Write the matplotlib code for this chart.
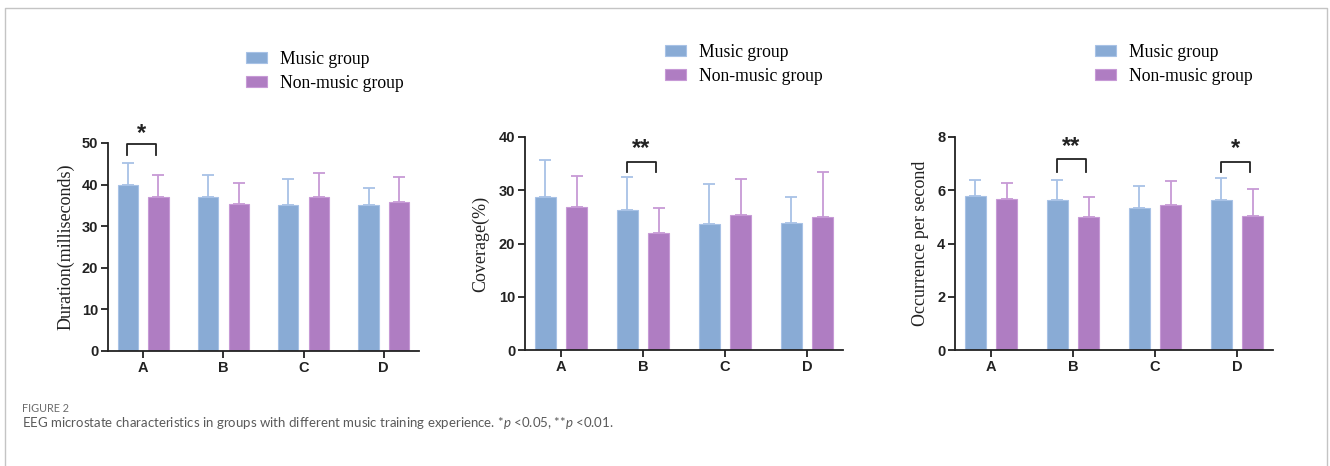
import matplotlib
matplotlib.use("Agg")
import matplotlib.pyplot as plt
import numpy as np

# microstate classes
states = ['A', 'B', 'C', 'D']

# duration (ms): mean and upper sd bar
dur_music = [40.0, 37.1, 35.2, 35.2]
dur_music_sd = [5.1, 5.1, 6.2, 4.1]
dur_non = [36.9, 35.3, 37.1, 35.9]
dur_non_sd = [5.4, 5.0, 5.8, 6.0]

# coverage (%)
cov_music = [28.7, 26.2, 23.6, 23.8]
cov_music_sd = [7.0, 6.3, 7.6, 5.0]
cov_non = [26.8, 21.9, 25.3, 24.9]
cov_non_sd = [5.8, 4.7, 6.9, 8.6]

# occurrence per second
occ_music = [5.79, 5.62, 5.33, 5.62]
occ_music_sd = [0.61, 0.76, 0.83, 0.83]
occ_non = [5.68, 4.99, 5.43, 5.03]
occ_non_sd = [0.61, 0.77, 0.90, 1.03]

# significance marks: (state index, label, bracket top, bracket foot, star y)
dur_sig = [(0, '*', 49.8, 47.1, 52.4)]
cov_sig = [(1, '**', 35.3, 33.4, 37.8)]
occ_sig = [(1, '**', 7.17, 6.70, 7.66), (3, '*', 7.05, 6.67, 7.58)]

col_music = '#89abd5'
col_non = '#af7dc2'
err_music = '#a8c2e6'
err_non = '#c79ad6'

plt.rcParams['mathtext.fontset'] = 'custom'
plt.rcParams['mathtext.it'] = 'Lato:italic'
plt.rcParams['mathtext.rm'] = 'Lato'

fig = plt.figure(figsize=(13.3, 4.66), dpi=100)
W, H = 1330, 466

# light frame around the figure
fig.add_artist(plt.Line2D([5/W, 5/W, 1327/W, 1327/W], [-0.1, 1-8/H, 1-8/H, -0.1],
                          transform=fig.transFigure, color='#c4c4c4', lw=1.0))

panels = [
    ([108, 419, 143, 351], dur_music, dur_music_sd, dur_non, dur_non_sd, 50, 10,
     'Duration(milliseconds)', dur_sig, -0.108, (246, 51)),
    ([525, 843, 137, 350], cov_music, cov_music_sd, cov_non, cov_non_sd, 40, 10,
     'Coverage(%)', cov_sig, -0.112, (665, 44)),
    ([955, 1273, 137, 350], occ_music, occ_music_sd, occ_non, occ_non_sd, 8, 2,
     'Occurrence per second', occ_sig, -0.082, (1095, 44)),
]

x = np.arange(len(states))
w = 0.25
off = 0.19

for box, m, msd, n, nsd, ymax, ystep, ylab, sig, labx, leg in panels:
    l, r, t, b = box
    ax = fig.add_axes([l/W, 1-b/H, (r-l)/W, (b-t)/H])
    b1 = ax.bar(x-off, m, w, color=col_music, edgecolor=err_music, lw=0.8,
                label='Music group', zorder=2)
    b2 = ax.bar(x+off, n, w, color=col_non, edgecolor=err_non, lw=0.8,
                label='Non-music group', zorder=2)
    ax.errorbar(x-off, m, yerr=[np.zeros(4), msd], fmt='none', ecolor=err_music,
                elinewidth=1.3, capsize=4, capthick=1.3, zorder=1)
    ax.errorbar(x+off, n, yerr=[np.zeros(4), nsd], fmt='none', ecolor=err_non,
                elinewidth=1.3, capsize=4, capthick=1.3, zorder=1)
    ax.set_xlim(-0.44, 3.44)
    ax.set_ylim(0, ymax)
    ax.set_yticks(np.arange(0, ymax+ystep/2, ystep))
    ax.set_xticks(x)
    ax.set_xticklabels(states)
    for s in ['top', 'right']:
        ax.spines[s].set_visible(False)
    for s in ['left', 'bottom']:
        ax.spines[s].set_linewidth(1.3)
        ax.spines[s].set_color('#222222')
    ax.tick_params(axis='both', length=5, width=1.3, color='#222222', pad=2)
    for lab in ax.get_xticklabels() + ax.get_yticklabels():
        lab.set_fontfamily('Liberation Sans')
        lab.set_fontweight('bold')
        lab.set_fontsize(10.5)
        lab.set_color('#222222')
    ax.set_ylabel(ylab, fontfamily='Liberation Serif', fontsize=13, color='#222222')
    ax.yaxis.set_label_coords(labx, 0.5)

    for i, txt, top, foot, sy in sig:
        x0, x1 = i-0.2, i+0.16
        ax.plot([x0, x0, x1, x1], [foot, top, top, foot], color='#222222', lw=1.3,
                clip_on=False)
        ax.text((x0+x1)/2, sy, txt, ha='center', va='center', fontsize=17,
                fontweight='bold', fontfamily='Liberation Sans', color='#222222')

    fig.legend(handles=[b1, b2], loc='upper left',
               bbox_to_anchor=(leg[0]/W, 1-leg[1]/H), frameon=False,
               borderpad=0, borderaxespad=0, handlelength=1.2, handleheight=0.6,
               handletextpad=0.75, labelspacing=0.4,
               prop={'family': 'Liberation Serif', 'size': 12.7})

fig.text(22/W, 1-408/H, 'FIGURE 2', fontfamily='Lato', fontsize=7.8,
         color='#6b6b6b', va='center', ha='left')
fig.text(22/W, 1-423/H,
         'EEG microstate characteristics in groups with different music training '
         'experience. *$p$ <0.05, **$p$ <0.01.',
         fontfamily='Lato', fontsize=9.5, color='#5a5a5a', va='center', ha='left')

fig.savefig('out.png', dpi=100)
